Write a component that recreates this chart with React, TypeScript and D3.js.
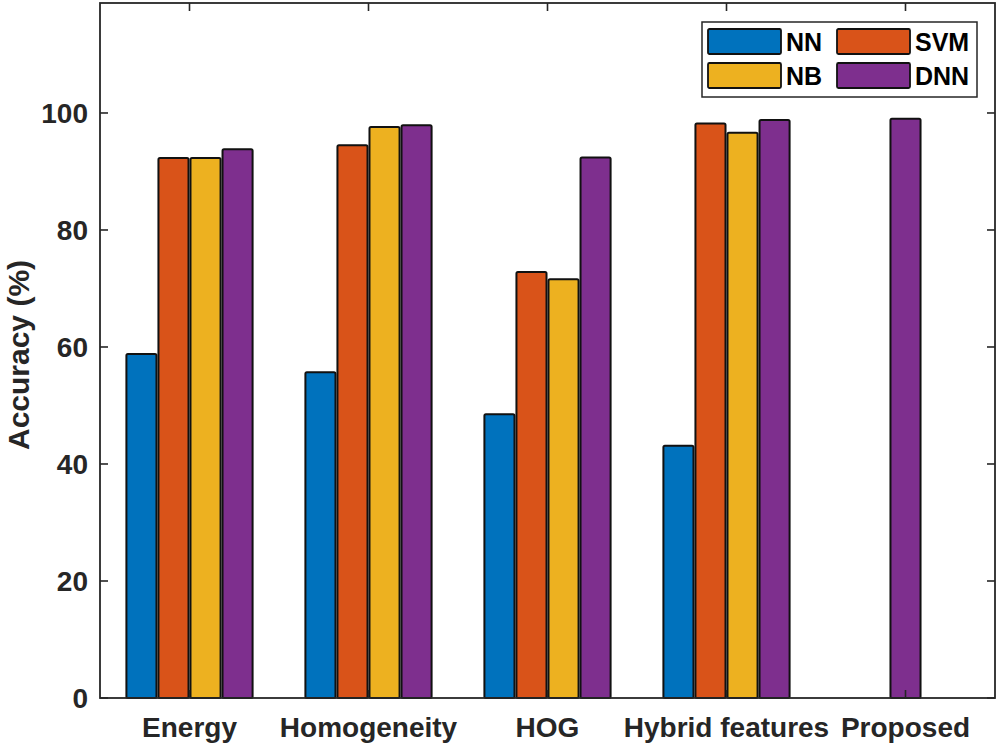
import React, { useEffect, useRef } from 'react';
import * as d3 from 'd3';

const categories = ['Energy', 'Homogeneity', 'HOG', 'Hybrid features', 'Proposed'];
const seriesNames = ['NN', 'SVM', 'NB', 'DNN'];
const seriesColors = ['#0072BD', '#D95319', '#EDB120', '#7E2F8E'];

// one array per series, null = no bar
const nnValues = [58.8, 55.7, 48.5, 43.1, null];
const svmValues = [92.3, 94.5, 72.8, 98.2, null];
const nbValues = [92.3, 97.6, 71.6, 96.6, null];
const dnnValues = [93.8, 97.9, 92.4, 98.8, 99.0];

const yTicks = [0, 20, 40, 60, 80, 100];

const App: React.FC = () => {
  const svgRef = useRef<SVGSVGElement>(null);

  useEffect(() => {
    if (!svgRef.current) return;
    const svg = d3.select(svgRef.current);
    svg.selectAll('*').remove();

    const left = 100;
    const right = 995;
    const top = 3;
    const bottom = 698;
    const axisColor = '#262626';
    const font = 'Liberation Sans, Arial, sans-serif';

    const x = d3.scaleLinear().domain([0.5, categories.length + 0.5]).range([left, right]);
    const y = d3.scaleLinear().domain([0, 118.8]).range([bottom, top]);

    const allSeries = [nnValues, svmValues, nbValues, dnnValues];
    const unit = x(2) - x(1);
    const step = unit * 0.179;
    const barW = unit * 0.168;

    const bars: { cx: number; v: number; color: string }[] = [];
    categories.forEach((c, i) => {
      const present = allSeries.map((s) => s[i]).filter((v) => v != null);
      allSeries.forEach((s, j) => {
        const v = s[i];
        if (v == null) return;
        // single-bar categories sit on the category centre
        const off = present.length === 1 ? 0 : (j - 1.5) * step;
        bars.push({ cx: x(i + 1) + off, v, color: seriesColors[j] });
      });
    });

    svg
      .selectAll('rect.bar')
      .data(bars)
      .enter()
      .append('rect')
      .attr('class', 'bar')
      .attr('x', (d) => d.cx - barW / 2)
      .attr('width', barW)
      .attr('y', (d) => y(d.v))
      .attr('height', (d) => bottom - y(d.v))
      .attr('rx', 1.5)
      .attr('fill', (d) => d.color)
      .attr('stroke', '#111')
      .attr('stroke-width', 2);

    // frame
    svg
      .append('rect')
      .attr('x', left)
      .attr('y', top)
      .attr('width', right - left)
      .attr('height', bottom - top)
      .attr('fill', 'none')
      .attr('stroke', axisColor)
      .attr('stroke-width', 1.8);

    // y ticks (inside, both sides)
    const tickLen = 8;
    yTicks.forEach((t) => {
      svg.append('line').attr('x1', left).attr('x2', left + tickLen).attr('y1', y(t)).attr('y2', y(t))
        .attr('stroke', axisColor).attr('stroke-width', 1.6);
      svg.append('line').attr('x1', right).attr('x2', right - tickLen).attr('y1', y(t)).attr('y2', y(t))
        .attr('stroke', axisColor).attr('stroke-width', 1.6);
      svg.append('text')
        .attr('x', left - 12)
        .attr('y', y(t))
        .attr('dy', '0.36em')
        .attr('text-anchor', 'end')
        .style('font-family', font)
        .style('font-weight', 'bold')
        .style('font-size', '28px')
        .style('fill', axisColor)
        .text(t);
    });

    // x ticks (inside, top and bottom) + labels
    categories.forEach((c, i) => {
      const cx = x(i + 1);
      svg.append('line').attr('x1', cx).attr('x2', cx).attr('y1', top).attr('y2', top + tickLen)
        .attr('stroke', axisColor).attr('stroke-width', 1.6);
      svg.append('line').attr('x1', cx).attr('x2', cx).attr('y1', bottom).attr('y2', bottom - tickLen)
        .attr('stroke', axisColor).attr('stroke-width', 1.6);
      svg.append('text')
        .attr('x', cx)
        .attr('y', bottom + 39)
        .attr('text-anchor', 'middle')
        .style('font-family', font)
        .style('font-weight', 'bold')
        .style('font-size', '28px')
        .style('fill', axisColor)
        .text(c);
    });

    // y label
    svg.append('text')
      .attr('transform', `translate(29,${355}) rotate(-90)`)
      .attr('text-anchor', 'middle')
      .style('font-family', font)
      .style('font-weight', 'bold')
      .style('font-size', '30px')
      .style('fill', axisColor)
      .text('Accuracy (%)');

    // legend
    const legend = svg.append('g').attr('transform', 'translate(702,22)');
    legend.append('rect')
      .attr('width', 275).attr('height', 75)
      .attr('fill', 'white').attr('stroke', axisColor).attr('stroke-width', 1.5);
    seriesNames.forEach((name, k) => {
      const col = k % 2;
      const row = Math.floor(k / 2);
      const gx = 6 + col * 129;
      const gy = 7 + row * 34;
      legend.append('rect')
        .attr('x', gx).attr('y', gy).attr('width', 73).attr('height', 25).attr('rx', 1.5)
        .attr('fill', seriesColors[k]).attr('stroke', '#111').attr('stroke-width', 1.8);
      legend.append('text')
        .attr('x', gx + 78)
        .attr('y', gy + 12.5)
        .attr('dy', '0.36em')
        .style('font-family', font)
        .style('font-weight', 'bold')
        .style('font-size', '25px')
        .style('fill', '#000')
        .text(name);
    });
  }, []);

  return (
    <svg
      ref={svgRef}
      width={1000}
      height={749}
      style={{ position: 'absolute', left: 0, top: 0, background: 'white' }}
    />
  );
};

export default App;
